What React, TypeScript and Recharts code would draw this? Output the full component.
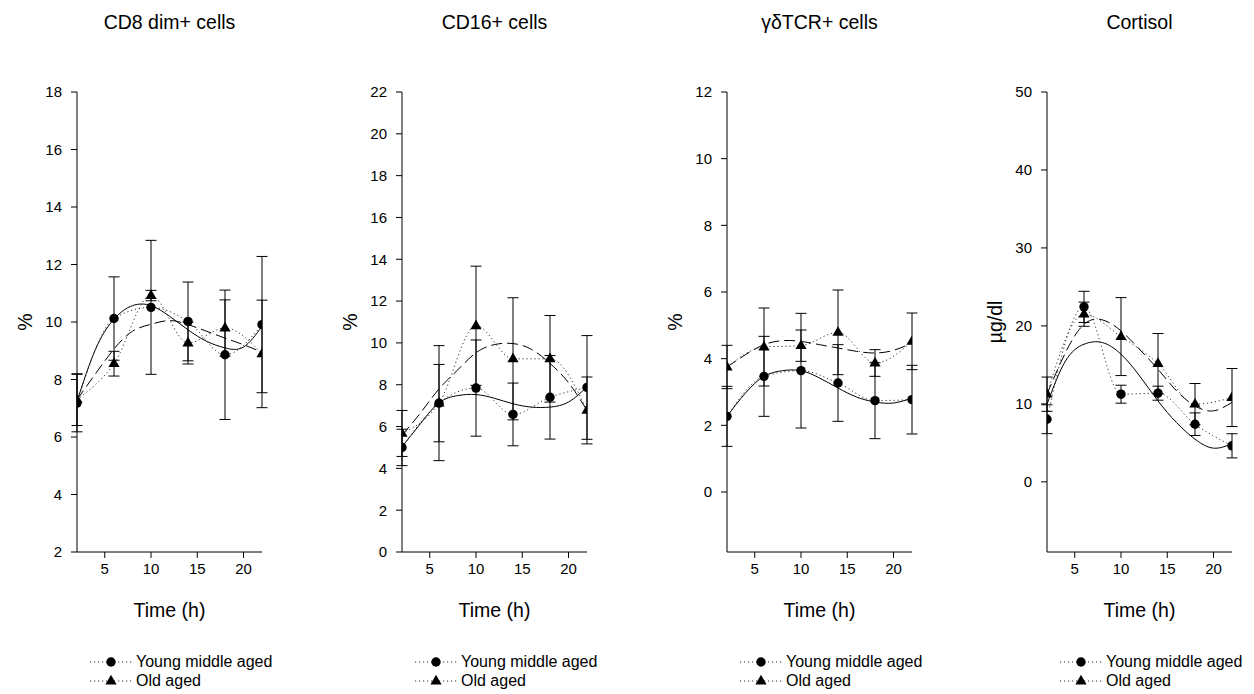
import React from 'react';
import { ComposedChart, Line, XAxis, YAxis, ErrorBar, Label } from 'recharts';

// ---------- data ----------
const hours = [2, 6, 10, 14, 18, 22];
const fitHours = [2, 4, 6, 8, 10, 12, 14, 16, 18, 20, 22];
const xTicks = [5, 10, 15, 20];

// CD8 dim+ cells (%)
const cd8Young = [7.18, 10.12, 10.51, 10.02, 8.86, 9.91];
const cd8YoungErr = [1.0, 1.45, 2.33, 1.37, 2.25, 2.37];
const cd8Old = [7.3, 8.55, 10.92, 9.27, 9.79, 8.89];
const cd8OldErr = [0.9, 0.43, 0.18, 0.73, 0.98, 1.87];
const cd8YoungFit = [7.24, 9.05, 10.1, 10.57, 10.57, 10.2, 9.73, 9.33, 9.1, 9.13, 9.85];
const cd8OldFit = [7.3, 8.2, 9.06, 9.68, 9.92, 10.05, 9.91, 9.68, 9.44, 9.21, 8.95];
const cd8Ticks = [2, 4, 6, 8, 10, 12, 14, 16, 18];

// CD16+ cells (%)
const cd16Young = [5.0, 7.12, 7.84, 6.58, 7.4, 7.87];
const cd16YoungErr = [0.87, 2.75, 2.3, 1.5, 2.0, 2.48];
const cd16Old = [5.67, 7.12, 10.82, 9.24, 9.24, 6.77];
const cd16OldErr = [1.1, 1.85, 2.85, 2.92, 2.07, 1.6];
const cd16YoungFit = [5.04, 6.14, 7.13, 7.48, 7.53, 7.35, 7.09, 6.93, 6.93, 7.17, 7.9];
const cd16OldFit = [5.59, 6.65, 7.8, 8.7, 9.53, 9.92, 9.97, 9.69, 9.02, 8.1, 6.77];
const cd16Ticks = [0, 2, 4, 6, 8, 10, 12, 14, 16, 18, 20, 22];

// γδTCR+ cells (%)
const gdYoung = [2.27, 3.47, 3.64, 3.27, 2.74, 2.77];
const gdYoungErr = [0.9, 1.2, 1.72, 1.15, 1.14, 1.03];
const gdOld = [3.75, 4.35, 4.39, 4.79, 3.87, 4.52];
const gdOldErr = [0.65, 1.17, 0.47, 1.27, 0.4, 0.85];
const gdYoungFit = [2.27, 2.97, 3.47, 3.64, 3.64, 3.42, 3.12, 2.85, 2.7, 2.67, 2.82];
const gdOldFit = [3.75, 4.12, 4.42, 4.54, 4.52, 4.42, 4.32, 4.22, 4.17, 4.25, 4.47];
const gdTicks = [0, 2, 4, 6, 8, 10, 12];

// Cortisol (µg/dl)
const cortYoung = [8.03, 22.44, 11.24, 11.37, 7.39, 4.62];
const cortYoungErr = [1.85, 2.0, 1.15, 0.9, 1.45, 1.55];
const cortOld = [11.24, 21.5, 18.63, 15.17, 9.96, 10.81];
const cortOldErr = [2.2, 1.55, 5.0, 3.85, 2.65, 3.72];
const cortYoungFit = [9.96, 15.5, 17.65, 17.86, 16.37, 13.6, 10.38, 7.6, 5.47, 4.32, 4.9];
const cortOldFit = [11.24, 16.58, 20.2, 20.77, 19.36, 17.0, 14.44, 11.67, 9.74, 9.1, 10.2];
const cortTicks = [0, 10, 20, 30, 40, 50];

const seriesNames = ['Young middle aged', 'Old aged'];

// ---------- helpers ----------
const pts = (ys: number[], errs: number[]) => hours.map((x, i) => ({ x, y: ys[i], err: errs[i] }));
const fit = (ys: number[]) => fitHours.map((x, i) => ({ x, y: ys[i] }));

const FONT = '"Liberation Sans", Arial, Helvetica, sans-serif';
const PLOT_W = 185;
const Y_AXIS_W = 70;
const TOP = 92;
const PLOT_H = 460;
const X_AXIS_H = 60;
const BOTTOM_PAD = 30;

const CircleDot = (props: any) => {
  const { cx, cy, index } = props;
  if (cx == null || cy == null) return <g key={`c${index}`} />;
  return <circle key={`c${index}`} cx={cx} cy={cy} r={4.7} fill="#000" stroke="none" />;
};

const TriangleDot = (props: any) => {
  const { cx, cy, index } = props;
  if (cx == null || cy == null) return <g key={`t${index}`} />;
  const p = `${cx},${cy - 6.2} ${cx - 5.6},${cy + 3.4} ${cx + 5.6},${cy + 3.4}`;
  return <polygon key={`t${index}`} points={p} fill="#000" stroke="none" />;
};

interface PanelProps {
  plotLeft: number;
  title: string;
  yLabel: string;
  domain: [number, number];
  ticks: number[];
  young: number[];
  youngErr: number[];
  old: number[];
  oldErr: number[];
  youngFit: number[];
  oldFit: number[];
}

const Panel = (p: PanelProps) => {
  const chartW = Y_AXIS_W + PLOT_W + 15;
  const chartH = TOP + PLOT_H + X_AXIS_H + BOTTOM_PAD;
  const yLabelContent = () => {
    const cx = Y_AXIS_W - 52;
    const cy = TOP + PLOT_H / 2;
    return (
      <text x={cx} y={cy} transform={`rotate(-90 ${cx} ${cy})`} textAnchor="middle" dominantBaseline="central" fontSize={19.5} fill="#000">
        {p.yLabel}
      </text>
    );
  };
  const xLabelContent = () => (
    <text x={Y_AXIS_W + PLOT_W / 2} y={TOP + PLOT_H + 58} textAnchor="middle" dominantBaseline="central" fontSize={19.5} fill="#000">
      Time (h)
    </text>
  );
  return (
    <>
      <div style={{ position: 'absolute', left: p.plotLeft, top: 11, width: PLOT_W, textAlign: 'center', fontSize: 19.5, lineHeight: '22px', color: '#000', whiteSpace: 'nowrap' }}>
        {p.title}
      </div>
      <div style={{ position: 'absolute', left: p.plotLeft - Y_AXIS_W, top: 0 }}>
        <ComposedChart width={chartW} height={chartH} margin={{ top: TOP, right: 15, bottom: BOTTOM_PAD, left: 0 }}>
          <XAxis
            type="number"
            dataKey="x"
            domain={[2, 22]}
            ticks={xTicks}
            allowDataOverflow
            height={X_AXIS_H}
            tickSize={6}
            tickMargin={5}
            axisLine={{ stroke: '#000' }}
            tickLine={{ stroke: '#000' }}
            tick={{ fill: '#000', fontSize: 15 }}
          >
            <Label content={xLabelContent} />
          </XAxis>
          <YAxis
            type="number"
            domain={p.domain}
            ticks={p.ticks}
            allowDataOverflow
            width={Y_AXIS_W}
            tickSize={6}
            tickMargin={9}
            axisLine={{ stroke: '#000' }}
            tickLine={{ stroke: '#000' }}
            tick={{ fill: '#000', fontSize: 15 }}
          >
            <Label content={yLabelContent} />
          </YAxis>
          <Line data={fit(p.youngFit)} dataKey="y" type="natural" stroke="#000" strokeWidth={1} dot={false} isAnimationActive={false} />
          <Line data={fit(p.oldFit)} dataKey="y" type="natural" stroke="#000" strokeWidth={1} strokeDasharray="11 5" dot={false} isAnimationActive={false} />
          <Line data={pts(p.young, p.youngErr)} dataKey="y" type="monotone" stroke="#333" strokeWidth={1} strokeDasharray="1.2 2.8" dot={CircleDot} isAnimationActive={false}>
            <ErrorBar dataKey="err" width={5.5} stroke="#000" strokeWidth={1} direction="y" />
          </Line>
          <Line data={pts(p.old, p.oldErr)} dataKey="y" type="monotone" stroke="#333" strokeWidth={1} strokeDasharray="1.2 2.8" dot={TriangleDot} isAnimationActive={false}>
            <ErrorBar dataKey="err" width={5.5} stroke="#000" strokeWidth={1} direction="y" />
          </Line>
        </ComposedChart>
      </div>
      <div style={{ position: 'absolute', left: p.plotLeft + 13, top: 652, fontSize: 16, color: '#000' }}>
        {seriesNames.map((name, i) => (
          <div key={name} style={{ display: 'flex', alignItems: 'center', height: 19.3, whiteSpace: 'nowrap' }}>
            <svg width={46} height={14} style={{ display: 'block' }}>
              <line x1={0} y1={7} x2={42} y2={7} stroke="#333" strokeWidth={1} strokeDasharray="1.2 2.8" />
              {i === 0 ? (
                <circle cx={21} cy={7} r={4.7} fill="#000" />
              ) : (
                <polygon points="21,0.8 15.4,10.4 26.6,10.4" fill="#000" />
              )}
            </svg>
            <span style={{ lineHeight: '19px' }}>{name}</span>
          </div>
        ))}
      </div>
    </>
  );
};

export default function App() {
  return (
    <div style={{ position: 'absolute', left: 0, top: 0, width: 1254, height: 694, background: '#fff', fontFamily: FONT, overflow: 'hidden' }}>
      <Panel plotLeft={77} title="CD8 dim+ cells" yLabel="%" domain={[2, 18]} ticks={cd8Ticks}
        young={cd8Young} youngErr={cd8YoungErr} old={cd8Old} oldErr={cd8OldErr} youngFit={cd8YoungFit} oldFit={cd8OldFit} />
      <Panel plotLeft={402} title="CD16+ cells" yLabel="%" domain={[0, 22]} ticks={cd16Ticks}
        young={cd16Young} youngErr={cd16YoungErr} old={cd16Old} oldErr={cd16OldErr} youngFit={cd16YoungFit} oldFit={cd16OldFit} />
      <Panel plotLeft={727} title="γδTCR+ cells" yLabel="%" domain={[-1.8, 12]} ticks={gdTicks}
        young={gdYoung} youngErr={gdYoungErr} old={gdOld} oldErr={gdOldErr} youngFit={gdYoungFit} oldFit={gdOldFit} />
      <Panel plotLeft={1047} title="Cortisol" yLabel="µg/dl" domain={[-9, 50]} ticks={cortTicks}
        young={cortYoung} youngErr={cortYoungErr} old={cortOld} oldErr={cortOldErr} youngFit={cortYoungFit} oldFit={cortOldFit} />
    </div>
  );
}
